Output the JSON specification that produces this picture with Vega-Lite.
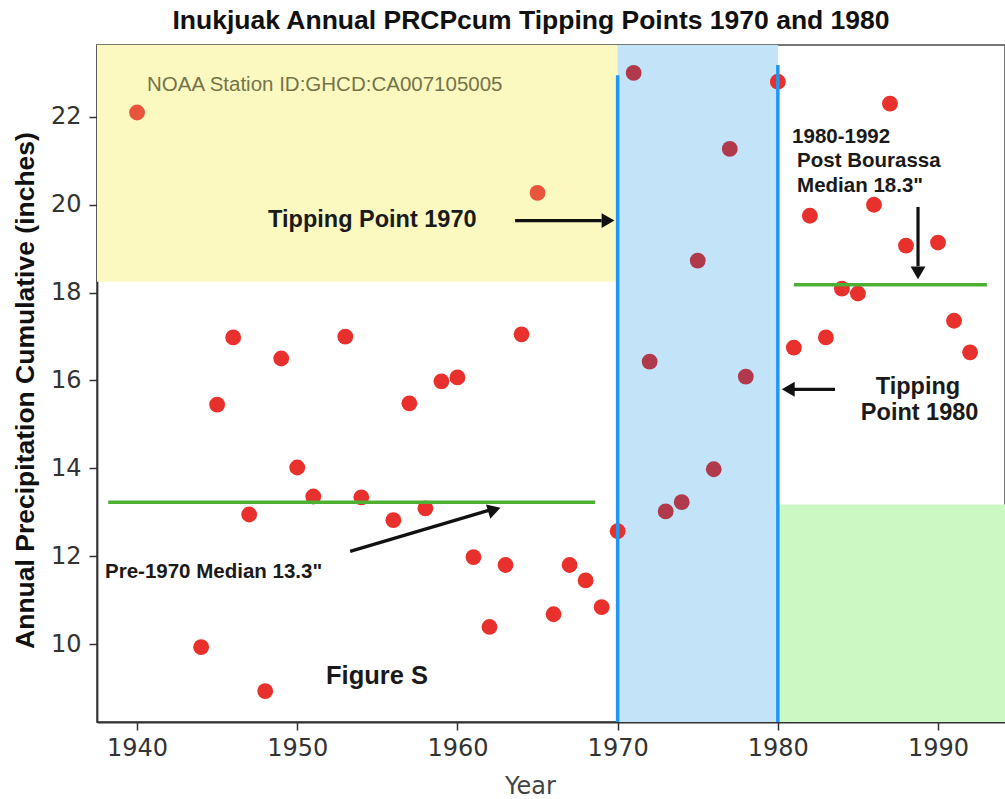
{
  "$schema": "https://vega.github.io/schema/vega-lite/v6.json",
  "width": 908,
  "height": 677,
  "autosize": {"type": "none"},
  "padding": {"left": 97, "top": 45, "right": 0, "bottom": 77},
  "background": "white",
  "title": {"text": "Inukjuak Annual PRCPcum Tipping Points 1970 and 1980", "font": "Liberation Sans", "fontSize": 26.5, "fontWeight": "bold", "color": "#111", "anchor": "middle", "dx": -20, "offset": 11},
  "config": {
    "view": {"stroke": "#777", "strokeWidth": 2},
    "axis": {"domainColor": "#333", "domainWidth": 1.8, "tickColor": "#333", "tickSize": 8, "tickWidth": 1.5, "labelFont": "DejaVu Sans", "labelFontSize": 24, "labelColor": "#333", "grid": false, "labelPadding": 6}
  },
  "layer": [
    {
      "data": {"values": [{"x": 1937.5, "x2": 1970, "y": 18.25, "y2": 23.636}]},
      "mark": {"type": "rect", "color": "#fbf8c0", "clip": true},
      "encoding": {
        "x": {"field": "x", "type": "quantitative", "title": "Year",
              "scale": {"domain": [1937.5, 1994.18], "nice": false, "zero": false},
              "axis": {"values": [1940, 1950, 1960, 1970, 1980, 1990], "format": "d", "titleFont": "DejaVu Sans", "titleFontSize": 24, "titleFontWeight": "normal", "titleColor": "#444", "titleX": 433, "titleY": 64, "titleBaseline": "middle"}},
        "x2": {"field": "x2"},
        "y": {"field": "y", "type": "quantitative", "title": "Annual Precipitation Cumulative (inches)",
              "scale": {"domain": [8.227, 23.636], "nice": false, "zero": false},
              "axis": {"values": [10, 12, 14, 16, 18, 20, 22], "titleFont": "Liberation Sans", "titleFontSize": 26.5, "titleFontWeight": "bold", "titleColor": "#111", "titleX": -72, "titleY": 345, "titleBaseline": "middle", "titleAngle": 270, "labelPadding": 8}},
        "y2": {"field": "y2"}
      }
    },
    {
      "data": {"values": [{"x": 1970, "x2": 1980, "y": 8.227, "y2": 23.636}]},
      "mark": {"type": "rect", "color": "#c2e3f8", "clip": true},
      "encoding": {"x": {"field": "x", "type": "quantitative", "title": "Year"}, "x2": {"field": "x2"}, "y": {"field": "y", "type": "quantitative", "title": "Annual Precipitation Cumulative (inches)"}, "y2": {"field": "y2"}}
    },
    {
      "data": {"values": [{"x": 1980, "x2": 1994.18, "y": 8.227, "y2": 13.18}]},
      "mark": {"type": "rect", "color": "#ccf8c3", "clip": true},
      "encoding": {"x": {"field": "x", "type": "quantitative", "title": "Year"}, "x2": {"field": "x2"}, "y": {"field": "y", "type": "quantitative", "title": "Annual Precipitation Cumulative (inches)"}, "y2": {"field": "y2"}}
    },
    {
      "data": {"values": [
        {"year": 1940, "prcp": 22.1}, {"year": 1944, "prcp": 9.93}, {"year": 1945, "prcp": 15.45}, {"year": 1946, "prcp": 16.98},
        {"year": 1947, "prcp": 12.95}, {"year": 1948, "prcp": 8.93}, {"year": 1949, "prcp": 16.5}, {"year": 1950, "prcp": 14.02},
        {"year": 1951, "prcp": 13.36}, {"year": 1953, "prcp": 17.0}, {"year": 1954, "prcp": 13.34}, {"year": 1956, "prcp": 12.82},
        {"year": 1957, "prcp": 15.48}, {"year": 1958, "prcp": 13.09}, {"year": 1959, "prcp": 15.98}, {"year": 1960, "prcp": 16.07},
        {"year": 1961, "prcp": 11.98}, {"year": 1962, "prcp": 10.39}, {"year": 1963, "prcp": 11.8}, {"year": 1964, "prcp": 17.05},
        {"year": 1965, "prcp": 20.27}, {"year": 1966, "prcp": 10.68}, {"year": 1967, "prcp": 11.8}, {"year": 1968, "prcp": 11.45},
        {"year": 1969, "prcp": 10.84}, {"year": 1970, "prcp": 12.57}, {"year": 1971, "prcp": 23.0}, {"year": 1972, "prcp": 16.43},
        {"year": 1973, "prcp": 13.02}, {"year": 1974, "prcp": 13.23}, {"year": 1975, "prcp": 18.73}, {"year": 1976, "prcp": 13.98},
        {"year": 1977, "prcp": 21.27}, {"year": 1978, "prcp": 16.09}, {"year": 1980, "prcp": 22.8}, {"year": 1981, "prcp": 16.75},
        {"year": 1982, "prcp": 19.75}, {"year": 1983, "prcp": 16.98}, {"year": 1984, "prcp": 18.09}, {"year": 1985, "prcp": 17.98},
        {"year": 1986, "prcp": 20.0}, {"year": 1987, "prcp": 22.3}, {"year": 1988, "prcp": 19.07}, {"year": 1990, "prcp": 19.14},
        {"year": 1991, "prcp": 17.36}, {"year": 1992, "prcp": 16.64}
      ]},
      "mark": {"type": "circle", "size": 250, "opacity": 1},
      "encoding": {
        "x": {"field": "year", "type": "quantitative", "title": "Year"},
        "y": {"field": "prcp", "type": "quantitative", "title": "Annual Precipitation Cumulative (inches)"},
        "color": {"condition": [
          {"test": "datum.year > 1970 && datum.year < 1980", "value": "#b03a4c"},
          {"test": "datum.year < 1970 && datum.prcp > 18.25", "value": "#e8553a"}
        ], "value": "#e8302d"}
      }
    },
    {
      "data": {"values": [{"x": 1970, "y": 8.227, "y2": 22.95}, {"x": 1980, "y": 8.227, "y2": 23.18}]},
      "mark": {"type": "rule", "color": "#2196f3", "strokeWidth": 3.5},
      "encoding": {"x": {"field": "x", "type": "quantitative", "title": "Year"}, "y": {"field": "y", "type": "quantitative", "title": "Annual Precipitation Cumulative (inches)"}, "y2": {"field": "y2"}}
    },
    {
      "data": {"values": [{"x": 1938.2, "x2": 1968.6, "y": 13.23, "y2": 13.23}, {"x": 1981.0, "x2": 1993.05, "y": 18.18, "y2": 18.18}]},
      "mark": {"type": "rule", "color": "#4cb035", "strokeWidth": 3.5},
      "encoding": {"x": {"field": "x", "type": "quantitative", "title": "Year"}, "x2": {"field": "x2"}, "y": {"field": "y", "type": "quantitative", "title": "Annual Precipitation Cumulative (inches)"}, "y2": {"field": "y2"}}
    },
    {
      "data": {"values": [
        {"x": 1963.6, "x2": 1969.0, "y": 19.64, "y2": 19.64},
        {"x": 1983.57, "x2": 1980.9, "y": 15.8, "y2": 15.8},
        {"x": 1988.75, "x2": 1988.75, "y": 19.95, "y2": 18.6},
        {"x": 1953.3, "x2": 1962.0, "y": 12.11, "y2": 13.05}
      ]},
      "mark": {"type": "rule", "color": "#111", "strokeWidth": 3.2},
      "encoding": {"x": {"field": "x", "type": "quantitative", "title": "Year"}, "x2": {"field": "x2"}, "y": {"field": "y", "type": "quantitative", "title": "Annual Precipitation Cumulative (inches)"}, "y2": {"field": "y2"}}
    },
    {
      "data": {"values": [{"x": 1969.4, "y": 19.64}]},
      "mark": {"type": "point", "shape": "triangle-right", "filled": true, "color": "#111", "size": 220, "opacity": 1},
      "encoding": {"x": {"field": "x", "type": "quantitative", "title": "Year"}, "y": {"field": "y", "type": "quantitative", "title": "Annual Precipitation Cumulative (inches)"}}
    },
    {
      "data": {"values": [{"x": 1980.65, "y": 15.8}]},
      "mark": {"type": "point", "shape": "triangle-left", "filled": true, "color": "#111", "size": 220, "opacity": 1},
      "encoding": {"x": {"field": "x", "type": "quantitative", "title": "Year"}, "y": {"field": "y", "type": "quantitative", "title": "Annual Precipitation Cumulative (inches)"}}
    },
    {
      "data": {"values": [{"x": 1988.75, "y": 18.45}]},
      "mark": {"type": "point", "shape": "triangle-down", "filled": true, "color": "#111", "size": 220, "opacity": 1},
      "encoding": {"x": {"field": "x", "type": "quantitative", "title": "Year"}, "y": {"field": "y", "type": "quantitative", "title": "Annual Precipitation Cumulative (inches)"}}
    },
    {
      "data": {"values": [{"x": 1962.3, "y": 13.06}]},
      "mark": {"type": "point", "shape": "triangle-right", "angle": 343, "filled": true, "color": "#111", "size": 220, "opacity": 1},
      "encoding": {"x": {"field": "x", "type": "quantitative", "title": "Year"}, "y": {"field": "y", "type": "quantitative", "title": "Annual Precipitation Cumulative (inches)"}}
    },
    {
      "data": {"values": [{"x": 1940.62, "y": 22.73, "t": "NOAA Station ID:GHCD:CA007105005"}]},
      "mark": {"type": "text", "align": "left", "baseline": "middle", "font": "Liberation Sans", "fontSize": 20.5, "color": "#74744a"},
      "encoding": {"x": {"field": "x", "type": "quantitative", "title": "Year"}, "y": {"field": "y", "type": "quantitative", "title": "Annual Precipitation Cumulative (inches)"}, "text": {"field": "t"}}
    },
    {
      "data": {"values": [
        {"x": 1948.18, "y": 19.66, "t": "Tipping Point 1970"}
      ]},
      "mark": {"type": "text", "align": "left", "baseline": "middle", "font": "Liberation Sans", "fontSize": 23.5, "fontWeight": "bold", "color": "#1a1a1a"},
      "encoding": {"x": {"field": "x", "type": "quantitative", "title": "Year"}, "y": {"field": "y", "type": "quantitative", "title": "Annual Precipitation Cumulative (inches)"}, "text": {"field": "t"}}
    },
    {
      "data": {"values": [
        {"x": 1988.75, "y": 15.86, "t": "Tipping"},
        {"x": 1988.85, "y": 15.27, "t": "Point 1980"}
      ]},
      "mark": {"type": "text", "align": "center", "baseline": "middle", "font": "Liberation Sans", "fontSize": 23.5, "fontWeight": "bold", "color": "#1a1a1a"},
      "encoding": {"x": {"field": "x", "type": "quantitative", "title": "Year"}, "y": {"field": "y", "type": "quantitative", "title": "Annual Precipitation Cumulative (inches)"}, "text": {"field": "t"}}
    },
    {
      "data": {"values": [
        {"x": 1980.89, "y": 21.55, "t": "1980-1992"},
        {"x": 1981.2, "y": 21.0, "t": "Post Bourassa"},
        {"x": 1981.2, "y": 20.43, "t": "Median 18.3\""},
        {"x": 1938.0, "y": 11.64, "t": "Pre-1970 Median 13.3\""}
      ]},
      "mark": {"type": "text", "align": "left", "baseline": "middle", "font": "Liberation Sans", "fontSize": 20.5, "fontWeight": "bold", "color": "#1a1a1a"},
      "encoding": {"x": {"field": "x", "type": "quantitative", "title": "Year"}, "y": {"field": "y", "type": "quantitative", "title": "Annual Precipitation Cumulative (inches)"}, "text": {"field": "t"}}
    },
    {
      "data": {"values": [{"x": 1954.98, "y": 9.27, "t": "Figure S"}]},
      "mark": {"type": "text", "align": "center", "baseline": "middle", "font": "Liberation Sans", "fontSize": 25.5, "fontWeight": "bold", "color": "#1a1a1a"},
      "encoding": {"x": {"field": "x", "type": "quantitative", "title": "Year"}, "y": {"field": "y", "type": "quantitative", "title": "Annual Precipitation Cumulative (inches)"}, "text": {"field": "t"}}
    }
  ]
}
